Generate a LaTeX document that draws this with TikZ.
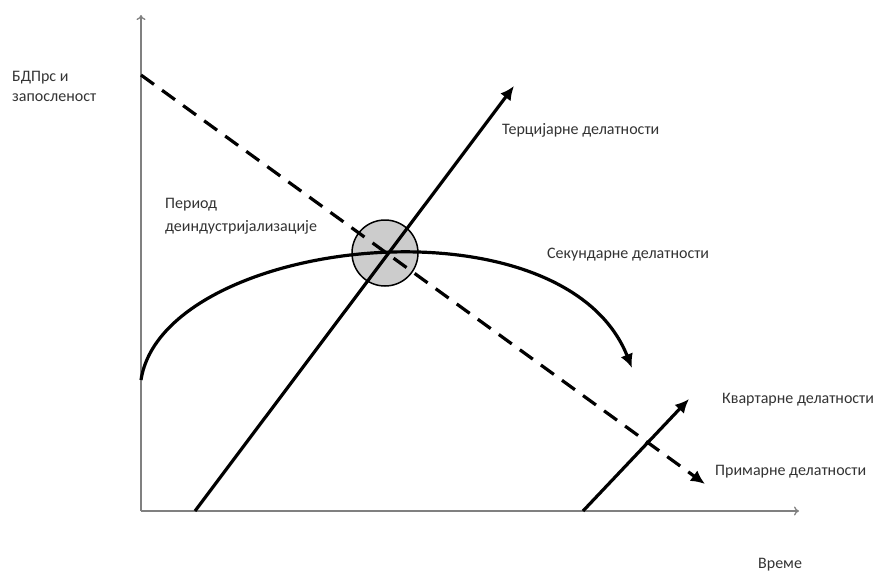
\documentclass[tikz,border=0pt]{standalone}
\usepackage{fontspec}
\setmainfont{Carlito}
\usetikzlibrary{arrows.meta}
\begin{document}
\begin{tikzpicture}[x=1pt,y=-1pt,
  axis/.style={draw=black!50, line width=1.3pt, -{To[length=5pt,width=9pt]}},
  trend/.style={line width=3.2pt, -{Latex[length=14pt,width=13pt]}},
  dashtrend/.style={trend, dash pattern=on 16pt off 10pt},
  lbl/.style={anchor=west, inner sep=0pt, font=\fontsize{16}{19}\selectfont, text=black!80}]
\useasboundingbox (0,0) rectangle (876,576);
% axes
\coordinate (O) at (141,511);
\coordinate (ytop) at (141,15);
\coordinate (xend) at (799,511);
% circle
\node[circle, draw, line width=1.5pt, fill=black!20, minimum size=66pt, inner sep=0pt] (c) at (385,253) {};
\draw[axis] (O) -- (ytop);
\draw[axis] (O) -- (xend);
% secondary curve
\coordinate (s0) at (141,380);
\coordinate (s1) at (632,368);
\draw[trend] (s0) .. controls (163,238) and (562,192) .. (s1);
% tertiary
\coordinate (t0) at (195,511);
\coordinate (t1) at (514,86);
\draw[trend] (t0) -- (t1);
% quaternary
\coordinate (q0) at (583,511);
\coordinate (q1) at (689,399);
\draw[trend] (q0) -- (q1);
% primary dashed
\coordinate (p0) at (141,75);
\coordinate (p1) at (705,484);
\draw[dashtrend] (p0) -- (p1);
% labels
\node[lbl] (yl1) at (12,78) {БДПрс и};
\node[lbl] (yl2) at (12,98) {запосленост};
\node[lbl] (per1) at (165,205) {Период};
\node[lbl] (per2) at (165,227) {деиндустријализације};
\node[lbl] (ter) at (502,130) {Терцијарне делатности};
\node[lbl] (sek) at (547,255) {Секундарне делатности};
\node[lbl] (kva) at (722,400) {Квартарне делатности};
\node[lbl] (pri) at (715,472) {Примарне делатности};
\node[lbl] (vre) at (758,565) {Време};
\end{tikzpicture}
\end{document}
